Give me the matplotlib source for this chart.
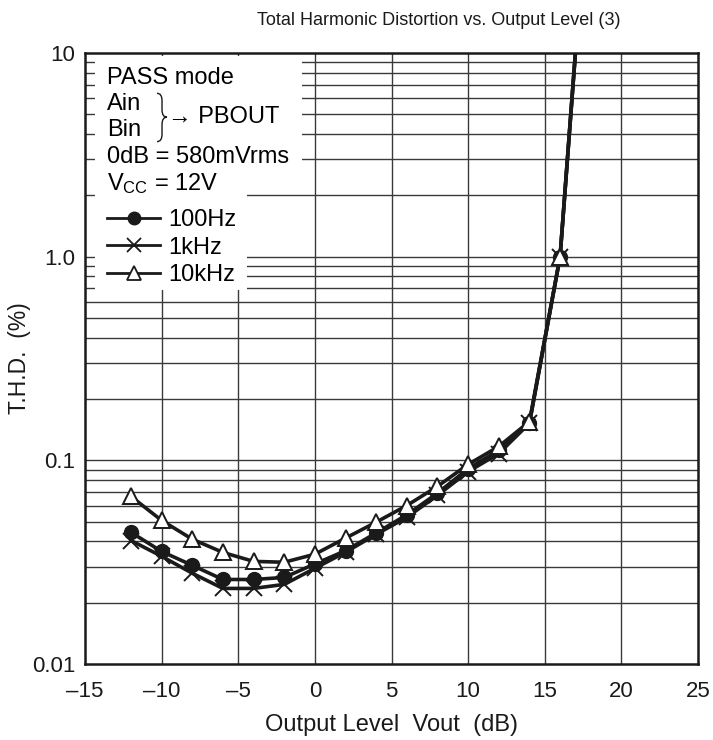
import matplotlib
matplotlib.use("Agg")
from matplotlib import pyplot as plt
from matplotlib.patches import Rectangle, PathPatch
from matplotlib.path import Path
from matplotlib.lines import Line2D
import numpy as np

plt.rcParams['font.family'] = ['Liberation Sans', 'DejaVu Sans']
plt.rcParams['mathtext.fontset'] = 'custom'
plt.rcParams['mathtext.rm'] = 'Liberation Sans'
plt.rcParams['mathtext.it'] = 'Liberation Sans'

# output level (dB)
vout = [-12, -10, -8, -6, -4, -2, 0, 2, 4, 6, 8, 10, 12, 14, 16, 17]

# T.H.D. (%)
thd_100hz = [0.0443, 0.0357, 0.0305, 0.026, 0.026, 0.0266, 0.031, 0.036, 0.044,
             0.054, 0.069, 0.091, 0.112, 0.152, 1.0, 10.0]
thd_1khz = [0.0404, 0.0338, 0.0279, 0.0235, 0.0235, 0.0246, 0.0295, 0.0354, 0.0433,
            0.0525, 0.0673, 0.088, 0.108, 0.152, 1.0, 10.0]
thd_10khz = [0.0665, 0.0507, 0.041, 0.0353, 0.0319, 0.0316, 0.0346, 0.0415, 0.0497,
             0.060, 0.0745, 0.0955, 0.117, 0.155, 1.0, 10.0]

xticks = [-15, -10, -5, 0, 5, 10, 15, 20, 25]
xticklabels = ['\u201315', '\u201310', '\u20135', '0', '5', '10', '15', '20', '25']
yticks = [0.01, 0.1, 1.0, 10]
yticklabels = ['0.01', '0.1', '1.0', '10']

fig = plt.figure(figsize=(7.13, 7.40), dpi=100)
ax = fig.add_axes([85/713, 76/740, 613/713, 611/740])

ax.set_yscale('log')
ax.set_xlim(-15, 25)
ax.set_ylim(0.01, 10)

# grid
gc = '#3a3a3a'
for x in range(-10, 25, 5):
    ax.axvline(x, color=gc, lw=1.0, zorder=1)
for dec in [0.01, 0.1, 1.0]:
    for m in range(1, 10):
        y = dec * m
        if y > 0.01:
            ax.axhline(y, color=gc, lw=1.0, zorder=1)

# white panel behind the notes
ax.add_patch(Rectangle((10/613, 0.809), 207/613, 0.186, transform=ax.transAxes,
                       facecolor='white', edgecolor='none', zorder=2))
ax.add_patch(Rectangle((10/613, 0.612), 152/613, 0.198, transform=ax.transAxes,
                       facecolor='white', edgecolor='none', zorder=2))

lw = 2.6
skip_last = list(range(len(vout) - 1))
ax.plot(vout, thd_100hz, color='#1a1a1a', lw=lw, marker='o', ms=10,
        mfc='#1a1a1a', mec='#1a1a1a', markevery=skip_last, zorder=4)
ax.plot(vout, thd_1khz, color='#1a1a1a', lw=lw, marker='x', ms=11, mew=1.4,
        markevery=skip_last, zorder=4)
ax.plot(vout, thd_10khz, color='#1a1a1a', lw=lw, marker='^', ms=11,
        mfc='white', mec='#1a1a1a', mew=1.4, markevery=skip_last, zorder=5)

fs = 17
tx = 22/613
ax.text(tx, 0.959, 'PASS mode', transform=ax.transAxes, fontsize=fs, va='center', zorder=3)
ax.text(tx, 0.9165, 'Ain', transform=ax.transAxes, fontsize=fs, va='center', zorder=3)
ax.text(tx, 0.874, 'Bin', transform=ax.transAxes, fontsize=fs, va='center', zorder=3)

# thin curly brace joining Ain / Bin
bx0, bx1, bm = 0.1175, 0.1338, 0.895
bt, bb = 0.934, 0.855
bxm = (bx0 + bx1) / 2
verts = [(bx0, bt), (bxm, bt), (bxm, bt - 0.012), (bxm, bm + 0.012),
         (bxm, bm), (bx1, bm),
         (bxm, bm), (bxm, bm - 0.012), (bxm, bb + 0.012),
         (bxm, bb), (bx0, bb)]
codes = [Path.MOVETO, Path.CURVE3, Path.CURVE3, Path.LINETO,
         Path.CURVE3, Path.CURVE3,
         Path.CURVE3, Path.CURVE3, Path.LINETO,
         Path.CURVE3, Path.CURVE3]
ax.add_patch(PathPatch(Path(verts, codes), transform=ax.transAxes, fill=False,
                       lw=1.0, edgecolor='#1a1a1a', zorder=3))
ax.text(0.136, 0.895, '\u2192 PBOUT', transform=ax.transAxes, fontsize=fs, va='center',
        zorder=3)
ax.text(tx, 0.830, '0dB = 580mVrms', transform=ax.transAxes, fontsize=fs, va='center', zorder=3)
ax.text(tx, 0.787, r'V$_{\mathrm{CC}}$ = 12V', transform=ax.transAxes, fontsize=fs,
        va='center', zorder=3)

handles = [Line2D([], [], color='#1a1a1a', lw=2, marker='o', ms=9),
           Line2D([], [], color='#1a1a1a', lw=2, marker='x', ms=10, mew=1.3),
           Line2D([], [], color='#1a1a1a', lw=2, marker='^', ms=10, mfc='white', mew=1.3)]
leg = ax.legend(handles, ['100Hz', '1kHz', '10kHz'], loc='upper left',
                bbox_to_anchor=(tx, 0.744), frameon=False, fontsize=fs,
                handlelength=2.25, handletextpad=0.35, labelspacing=0.22,
                borderaxespad=0, borderpad=0)
leg.set_zorder(6)

ax.set_xticks(xticks)
ax.set_xticklabels(xticklabels)
ax.set_yticks(yticks)
ax.set_yticklabels(yticklabels)
ax.yaxis.set_minor_locator(matplotlib.ticker.NullLocator())
ax.tick_params(axis='both', length=0, labelsize=16, colors='#1a1a1a')
ax.tick_params(axis='x', pad=12)
ax.tick_params(axis='y', pad=7)

for s in ax.spines.values():
    s.set_linewidth(1.8)
    s.set_color('#1a1a1a')
    s.set_zorder(7)

ax.set_xlabel('Output Level  Vout  (dB)', fontsize=17, color='#1a1a1a', labelpad=9)
ax.set_ylabel('T.H.D.  (%)', fontsize=16.5, color='#1a1a1a')
ax.yaxis.set_label_coords(-54/613, 0.5)
ax.set_title('Total Harmonic Distortion vs. Output Level (3)', fontsize=13,
             color='#1a1a1a', pad=20)
ax.title.set_x((439 - 85) / 613)

fig.savefig('out.png', dpi=100)
